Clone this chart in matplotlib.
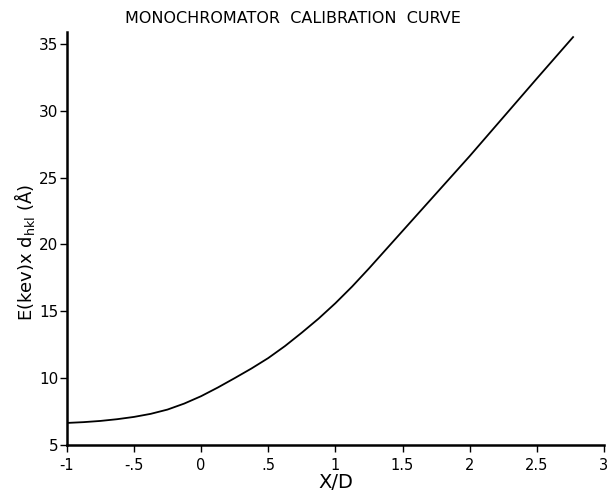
import matplotlib
matplotlib.use("Agg")
import matplotlib.pyplot as plt

x_over_d = [-1.0, -0.875, -0.75, -0.625, -0.5, -0.375, -0.25, -0.125, 0.0, 0.125, 0.25, 0.375,
            0.5, 0.625, 0.75, 0.875, 1.0, 1.125, 1.25, 1.375, 1.5, 1.75, 2.0, 2.25, 2.5, 2.77]
e_times_d = [6.65, 6.71, 6.8, 6.93, 7.1, 7.33, 7.65, 8.1, 8.65, 9.3, 10.0, 10.72,
             11.5, 12.4, 13.4, 14.45, 15.6, 16.85, 18.2, 19.6, 21.0, 23.8, 26.6, 29.5, 32.4, 35.5]

x_ticks = [-1, -0.5, 0, 0.5, 1, 1.5, 2, 2.5, 3]
x_tick_labels = ["-1", "-.5", "0", ".5", "1", "1.5", "2", "2.5", "3"]
y_ticks = [5, 10, 15, 20, 25, 30, 35]
y_tick_labels = ["5", "10", "15", "20", "25", "30", "35"]

fig = plt.figure(figsize=(6.07, 4.92), dpi=100)
ax = fig.add_axes([0.110, 0.0955, 0.885, 0.84])

ax.plot(x_over_d, e_times_d, color="black", lw=1.3)

ax.set_xlim(-1, 3)
ax.set_ylim(5, 35.9)
ax.set_xticks(x_ticks)
ax.set_xticklabels(x_tick_labels, fontsize=10.5)
ax.set_yticks(y_ticks)
ax.set_yticklabels(y_tick_labels, fontsize=11)
ax.tick_params(axis="x", direction="out", length=5, width=1, pad=4)
ax.tick_params(axis="y", direction="out", length=5, width=1, pad=1)

for s in ["top", "right"]:
    ax.spines[s].set_visible(False)
ax.spines["left"].set_linewidth(1.8)
ax.spines["bottom"].set_linewidth(1.8)

ax.set_xlabel("X/D", fontsize=14, labelpad=0)
ax.set_ylabel(r"E(kev)x d$_{\mathregular{hkl}}$ ($\mathregular{\AA}$)", fontsize=13)
ax.yaxis.set_label_coords(-0.056, 0.467)
fig.text(0.482, 0.963, "MONOCHROMATOR  CALIBRATION  CURVE", ha="center", va="center", fontsize=11.5)

fig.savefig("out.png", dpi=100, facecolor="white")
